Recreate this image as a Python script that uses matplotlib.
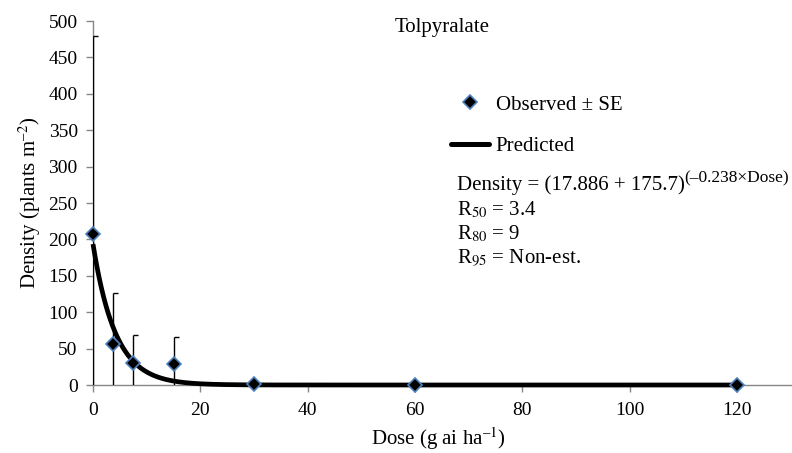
import numpy as np
import matplotlib
matplotlib.use("Agg")
import matplotlib.pyplot as plt
from matplotlib.lines import Line2D
from matplotlib.path import Path

plt.rcParams['font.family'] = ['Liberation Serif', 'DejaVu Serif']
plt.rcParams['mathtext.fontset'] = 'stix'

# Data
dose = [0, 3.75, 7.5, 15, 30, 60, 120]
density = [208, 56, 30, 29, 1, 0, 0]
se = [272, 71, 39, 37, 0, 0, 0]

# Model parameters (from the annotation)
c_param = 17.886
d_param = 175.7
b_param = 0.238

title = "Tolpyralate"
xlabel = "Dose (g ai ha$^{\u2013\\mathrm{1}}$)"
ylabel = "Density (plants m$^{\u2013\\mathrm{2}}$)"
xticks = [0, 20, 40, 60, 80, 100, 120]
yticks = [0, 50, 100, 150, 200, 250, 300, 350, 400, 450, 500]

W, H = 792, 453
FS = 15
TFS = 14
fig = plt.figure(figsize=(W / 100, H / 100), dpi=100)
ax = fig.add_axes([93 / W, (H - 385) / H, (W - 93) / W, (385 - 21) / H])

ax.set_xlim(0, 130.2)
ax.set_ylim(0, 500)

# error bars (caps drawn on the right side only, as in the reference)
ax.errorbar(dose, density, yerr=se, fmt='none', ecolor='black', elinewidth=1,
            capsize=0, zorder=2)
cap_marker = Path([(0, 0), (1, 0)], [Path.MOVETO, Path.LINETO])
cap_x = [d for d, s in zip(dose, se) if s > 0]
cap_y = [v + s for v, s in zip(density, se) if s > 0]
ax.plot(cap_x, cap_y, linestyle='none', marker=cap_marker, markersize=7,
        markeredgecolor='black', markeredgewidth=1, zorder=2)

# predicted curve
xs = np.linspace(0, 120, 600)
ys = (c_param + d_param) * np.exp(-b_param * xs)
ax.plot(xs, ys, color='black', lw=3.4, zorder=3, clip_on=False,
        solid_capstyle='butt')

# observed markers
ax.plot(dose, density, linestyle='none', marker='D', markersize=7.5,
        markerfacecolor='black', markeredgecolor='#4F81BD', markeredgewidth=1.2,
        zorder=4, clip_on=False)

for s in ['top', 'right']:
    ax.spines[s].set_visible(False)
for s in ['left', 'bottom']:
    ax.spines[s].set_color('#868686')
    ax.spines[s].set_linewidth(1)
    ax.spines[s].set_zorder(1)

ax.set_xticks(xticks)
ax.set_yticks(yticks)
ax.tick_params(axis='both', direction='out', length=5, width=1, color='#868686',
               labelsize=TFS, labelcolor='black')
ax.tick_params(axis='x', pad=7)
ax.tick_params(axis='y', pad=6)

ax.set_xlabel(xlabel, fontsize=FS)
ax.xaxis.set_label_coords((438 - 93) / (W - 93), -(445 - 385) / (385 - 21))
ax.xaxis.label.set_va('baseline')
ax.set_ylabel(ylabel, fontsize=FS, labelpad=4)

fig.text(442 / W, 1 - 32 / H, title, fontsize=FS, ha='center', va='baseline')

handles = [
    Line2D([], [], linestyle='none', marker='D', markersize=7,
           markerfacecolor='black', markeredgecolor='#4F81BD', markeredgewidth=1.2),
    Line2D([], [], color='black', lw=3.6, solid_capstyle='round'),
]
leg = ax.legend(handles, ["Observed \u00b1 SE", "Predicted"], loc='upper left',
                bbox_to_anchor=(451 / W, 1 - 95 / H), bbox_transform=fig.transFigure,
                frameon=False, fontsize=FS, handlelength=1.8, handletextpad=0.35,
                labelspacing=1.05, borderpad=0, borderaxespad=0)

eq_main = "Density = (%.3f + %.1f)" % (c_param, d_param)
eq_sup = "(\u2013%.3f\u00d7Dose)" % b_param
t_main = fig.text(457 / W, 1 - 190 / H, eq_main, fontsize=FS, ha='left', va='baseline')
fig.canvas.draw()
bb = t_main.get_window_extent()
fig.text((bb.x1 - 1) / W, 1 - 182 / H, eq_sup, fontsize=12.5, ha='left', va='baseline')
fig.text(457 / W, 1 - 215 / H, "R$_{\\mathrm{50}}$ = 3.4", fontsize=FS, ha='left', va='baseline')
fig.text(457 / W, 1 - 239 / H, "R$_{\\mathrm{80}}$ = 9", fontsize=FS, ha='left', va='baseline')
fig.text(457 / W, 1 - 263 / H, "R$_{\\mathrm{95}}$ = Non-est.", fontsize=FS, ha='left', va='baseline')

fig.savefig("out.png", dpi=100)
